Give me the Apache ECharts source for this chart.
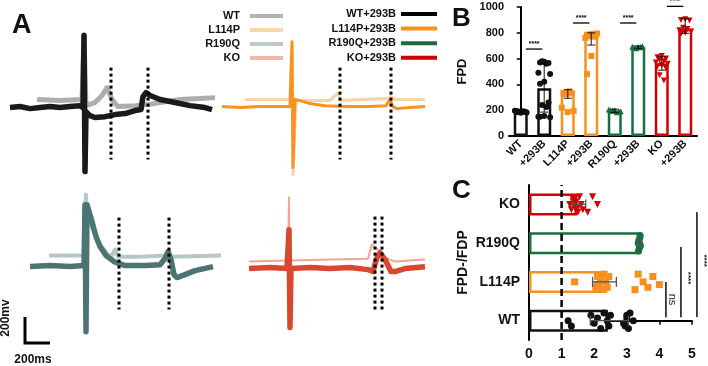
<!DOCTYPE html>
<html>
<head>
<meta charset="utf-8">
<script src="https://cdn.jsdelivr.net/npm/echarts@6/dist/echarts.min.js"></script>
<style>
  html, body { margin: 0; padding: 0; background: #fff; }
  #chart { width: 708px; height: 366px; }
</style>
</head>
<body>
<div id="chart"></div>
<script>
// ---- panel A: field potential traces, [time ms, mV] ----
const traceWT = [[216,62],[400,54],[576,62],[592,564],[608,15],[680,39],[736,93],[776,155],[816,62],[864,8],[1000,15],[1104,23],[1200,39],[1360,62],[1520,70],[1640,77]]
const traceWT293 = [[0,0],[80,8],[160,-8],[240,0],[320,8],[400,0],[480,8],[560,15],[584,0],[592,557],[600,-495],[608,-31],[640,-62],[680,-77],[760,-70],[840,-54],[920,-46],[1000,-23],[1048,-15],[1064,85],[1088,116],[1120,93],[1200,62],[1320,39],[1440,15],[1560,0],[1616,-15]]
const traceL114P = [[184,62],[384,62],[544,62],[560,487],[568,-518],[592,54],[704,54],[864,54],[904,93],[928,108],[952,54],[1104,62],[1328,70],[1352,85],[1384,62],[1624,62]]
const traceL114P293 = [[0,8],[144,0],[304,8],[464,8],[544,8],[560,510],[568,-464],[584,62],[624,54],[704,31],[824,15],[984,8],[1184,8],[1312,15],[1344,62],[1368,8],[1400,-8],[1504,0],[1624,8]]
const traceR190Q = [[152,85],[320,85],[432,85],[448,557],[456,402],[496,302],[560,170],[624,93],[656,85],[680,131],[704,77],[880,77],[1080,85],[1104,116],[1128,77],[1528,85]]
const traceR190Q293 = [[0,0],[160,8],[320,0],[432,8],[440,479],[448,-503],[456,479],[472,464],[496,348],[528,232],[560,155],[608,85],[672,39],[760,8],[920,8],[1040,15],[1080,62],[1104,116],[1128,54],[1152,-62],[1176,-85],[1240,-62],[1320,-31],[1464,0]]
const traceKO = [[0,54],[312,62],[320,549],[328,-472],[336,62],[648,70],[952,77],[984,186],[1032,147],[1088,85],[1168,54],[1408,70]]
const traceKO293 = [[0,0],[168,8],[304,0],[320,301],[328,-456],[336,0],[488,8],[648,0],[808,8],[952,-8],[992,-23],[1024,85],[1048,124],[1088,70],[1136,-23],[1168,-23],[1248,0],[1408,15]]

// dotted markers (time ms) and their extent (mV)
const dotsTL = [808, 1104]
const dotsTR = [944, 1352]
const dotsBL = [712, 1112]
const dotsBR = [1008, 1064]
const dotSpanTop = [309, -402]
const dotSpanBottomL = [379, -332]
const dotSpanBottomR = [402, -317]

// ---- panel B: FPD ----
const catB = ['WT', '+293B', 'L114P', '+293B', 'R190Q', '+293B', 'KO', '+293B']
const meanB = [190, 370, 335, 780, 195, 688, 562, 832]
const errLowB = [180, 185, 292, 705, 182, 678, 510, 795]
const errHighB = [200, 560, 360, 800, 208, 698, 615, 910]
const pointsB = [
  [180, 185, 188, 190, 192, 195, 183, 187, 191, 186],
  [575, 570, 565, 580, 560, 490, 480, 420, 405, 260, 240, 225, 150, 145, 155, 150],
  [340, 335, 330, 325, 345, 220, 195, 185],
  [790, 785, 780, 775, 770, 760, 795, 620, 480],
  [200, 195, 190, 198, 185, 205, 192],
  [690, 685, 695, 680, 688, 692],
  [620, 610, 600, 590, 580, 570, 560, 550, 540, 525, 470, 430],
  [905, 900, 895, 840, 830, 820, 810, 800, 790]
]
const sigPairsB = [[0, 1], [2, 3], [4, 5], [6, 7]]
const sigLevelB = [674, 876, 876, 1005]

// ---- panel C: FPD-/FDP ----
const catC = ['WT', 'L114P', 'R190Q', 'KO']
const meanC = [2.42, 2.40, 3.42, 1.47]
const errLowC = [1.88, 1.95, 3.33, 1.32]
const errHighC = [3.05, 2.68, 3.43, 1.74]
const pointsC = [
  [1.2, 1.3, 1.9, 2.0, 2.1, 2.2, 2.3, 2.4, 2.45, 2.5, 2.9, 3.0, 3.05, 3.1, 3.2, 2.95, 3.0],
  [1.4, 2.05, 2.1, 2.15, 2.2, 2.25, 2.3, 2.35, 2.4, 2.45, 2.1, 2.2, 3.25, 3.35, 3.5, 3.65, 3.8, 4.0],
  [3.35, 3.38, 3.4, 3.42, 3.37, 3.36, 3.41, 3.39],
  [1.25, 1.3, 1.35, 1.4, 1.45, 1.5, 1.55, 1.6, 1.65, 1.4, 1.5, 1.35, 1.8, 1.95, 2.1]
]
const sigXC = [4.2, 4.66, 5.15]
const sigSpanC = [[0.09, 1.0], [0.09, 1.9], [0.09, 2.8]]
const sigTextC = ['ns', '****', '****']

const FONT = 'Liberation Sans, Arial, sans-serif'
const BLACK = '#111'
const ORANGE = '#f7901e'
const GREEN = '#17703f'
const RED = '#d40000'
const colB = [BLACK, BLACK, ORANGE, ORANGE, GREEN, GREEN, RED, RED]
const symB = ['circle', 'circle', 'rect', 'rect', 'triangle', 'triangle', 'triangle', 'triangle']
const colC = [BLACK, ORANGE, GREEN, RED]
const symC = ['circle', 'rect', 'circle', 'triangle']
const jitterB = [0, -0.18, 0.18, -0.09, 0.09, -0.25, 0.25]
const jitterC = [0, -0.14, 0.14, -0.07, 0.07, -0.2, 0.2]

const chart = echarts.init(document.getElementById('chart'))

function traceGrid(left, top) {
  return { left: left, top: top, width: 212.5, height: 150, containLabel: false, outerBoundsMode: 'none' }
}
function hiddenX(g) { return { type: 'value', gridIndex: g, min: 0, max: 1700, show: false } }
function hiddenY(g) { return { type: 'value', gridIndex: g, min: -560, max: 600, show: false } }

function trace(name, data, g, color, width, z) {
  return {
    type: 'line', name: name, data: data, xAxisIndex: g, yAxisIndex: g,
    symbol: 'none', showSymbol: false, silent: true, z: z,
    lineStyle: { color: color, width: width, join: 'round' }, itemStyle: { color: color }
  }
}
function dots(g, times, span) {
  return times.map(t => ({
    type: 'line', xAxisIndex: g, yAxisIndex: g, symbol: 'none', silent: true, z: 8,
    data: [[t, span[0]], [t, span[1]]],
    lineStyle: { color: '#000', width: 3, type: [3, 3] }
  }))
}

const axisLineStyle = { color: '#000', width: 2 }
const bold = { fontFamily: FONT, fontWeight: 'bold', color: BLACK }

let series = [
  trace('WT', traceWT, 0, '#adadad', 5, 2),
  trace('WT+293B', traceWT293, 0, '#1a1a1a', 5.5, 3),
  trace('L114P', traceL114P, 1, '#fbd3a6', 3, 2),
  trace('L114P+293B', traceL114P293, 1, '#f7941d', 3, 3),
  trace('R190Q', traceR190Q, 2, '#b6c8c5', 4, 2),
  trace('R190Q+293B', traceR190Q293, 2, '#4b7472', 5.5, 3),
  trace('KO', traceKO, 3, '#f0a597', 2, 2),
  trace('KO+293B', traceKO293, 3, '#d8472e', 5.5, 3)
]
series = series.concat(dots(0, dotsTL, dotSpanTop), dots(1, dotsTR, dotSpanTop),
  dots(2, dotsBL, dotSpanBottomL), dots(3, dotsBR, dotSpanBottomR))

// panel B bars
series.push({
  type: 'bar', xAxisIndex: 4, yAxisIndex: 4, barWidth: 14, silent: true, z: 2,
  data: meanB.map((v, i) => ({ value: v, itemStyle: { color: '#fff', borderColor: colB[i], borderWidth: 2.5 } }))
})
pointsB.forEach((pts, i) => {
  series.push({
    type: 'scatter', xAxisIndex: 5, yAxisIndex: 4, silent: true, z: 4,
    symbol: symB[i], symbolSize: 6, symbolRotate: i >= 6 ? 180 : 0,
    itemStyle: { color: colB[i], opacity: 1 },
    data: pts.map((v, j) => [i + jitterB[j % jitterB.length], v])
  })
})
series.push({
  type: 'custom', xAxisIndex: 5, yAxisIndex: 4, silent: true, z: 6,
  data: meanB.map((v, i) => [i, errLowB[i], errHighB[i]]),
  renderItem: function (params, api) {
    const x = api.value(0)
    const lo = api.coord([x, api.value(1)])
    const hi = api.coord([x, api.value(2)])
    const st = { stroke: 'rgba(0,0,0,0.7)', lineWidth: 1.3 }
    return {
      type: 'group', children: [
        { type: 'line', shape: { x1: lo[0], y1: lo[1], x2: hi[0], y2: hi[1] }, style: st },
        { type: 'line', shape: { x1: lo[0] - 4, y1: lo[1], x2: lo[0] + 4, y2: lo[1] }, style: st },
        { type: 'line', shape: { x1: hi[0] - 4, y1: hi[1], x2: hi[0] + 4, y2: hi[1] }, style: st }
      ]
    }
  }
})
series.push({
  type: 'custom', xAxisIndex: 5, yAxisIndex: 4, silent: true, z: 6,
  data: sigPairsB.map((p, i) => [p[0], p[1], sigLevelB[i]]),
  renderItem: function (params, api) {
    const a = api.coord([api.value(0) + 0.22, api.value(2)])
    const b = api.coord([api.value(1) - 0.08, api.value(2)])
    return {
      type: 'group', children: [
        { type: 'line', shape: { x1: a[0], y1: a[1], x2: b[0], y2: b[1] }, style: { stroke: '#000', lineWidth: 1.3 } },
        { type: 'text', x: (a[0] + b[0]) / 2, y: a[1] - 1.5,
          style: { text: '****', fill: '#000', font: 'bold 7px ' + FONT, align: 'center', verticalAlign: 'bottom' } }
      ]
    }
  }
})

// panel C bars
series.push({
  type: 'bar', xAxisIndex: 6, yAxisIndex: 5, barWidth: 22, silent: true, z: 2,
  data: meanC.map((v, i) => ({ value: v, itemStyle: { color: '#fff', borderColor: colC[i], borderWidth: 2.5 } }))
})
pointsC.forEach((pts, i) => {
  series.push({
    type: 'scatter', xAxisIndex: 6, yAxisIndex: 6, silent: true, z: 4,
    symbol: symC[i], symbolSize: 7, symbolRotate: i === 3 ? 180 : 0,
    itemStyle: { color: colC[i], opacity: 1 },
    data: pts.map((v, j) => [v, i + jitterC[j % jitterC.length]])
  })
})
series.push({
  type: 'custom', xAxisIndex: 6, yAxisIndex: 6, silent: true, z: 6,
  data: meanC.map((v, i) => [errLowC[i], errHighC[i], i]),
  renderItem: function (params, api) {
    const y = api.value(2)
    const lo = api.coord([api.value(0), y])
    const hi = api.coord([api.value(1), y])
    const st = { stroke: '#555', lineWidth: 1.3 }
    return {
      type: 'group', children: [
        { type: 'line', shape: { x1: lo[0], y1: lo[1], x2: hi[0], y2: hi[1] }, style: st },
        { type: 'line', shape: { x1: lo[0], y1: lo[1] - 5, x2: lo[0], y2: lo[1] + 5 }, style: st },
        { type: 'line', shape: { x1: hi[0], y1: hi[1] - 5, x2: hi[0], y2: hi[1] + 5 }, style: st }
      ]
    }
  }
})
series.push({
  type: 'line', xAxisIndex: 6, yAxisIndex: 6, symbol: 'none', silent: true, z: 9,
  data: [[1, -0.5], [1, 3.5]],
  lineStyle: { color: '#000', width: 2.5, type: [7, 4] }
})
series.push({
  type: 'custom', xAxisIndex: 6, yAxisIndex: 6, silent: true, z: 6, clip: false,
  data: sigXC.map((x, i) => [x, sigSpanC[i][0], sigSpanC[i][1], i]),
  renderItem: function (params, api) {
    const a = api.coord([api.value(0), api.value(1)])
    const b = api.coord([api.value(0), api.value(2)])
    const label = sigTextC[api.value(3)]
    const isNs = label === 'ns'
    return {
      type: 'group', children: [
        { type: 'line', shape: { x1: a[0], y1: a[1], x2: b[0], y2: b[1] }, style: { stroke: '#333', lineWidth: 1.8 } },
        { type: 'text', x: a[0] + (isNs ? 6 : 7), y: (a[1] + b[1]) / 2 - (isNs ? 0 : 4), rotation: -Math.PI / 2,
          style: { text: label, fill: '#222', font: (isNs ? '11px ' : 'bold 8px ') + FONT, align: 'center', verticalAlign: 'middle' } }
      ]
    }
  }
})

function legendItems(names, colors) {
  return names.map((n, i) => ({ name: n, itemStyle: { color: colors[i], borderWidth: 0 }, lineStyle: { color: colors[i] } }))
}

const option = {
  animation: false,
  textStyle: { fontFamily: FONT },
  grid: [
    traceGrid(10, 30), traceGrid(222, 30), traceGrid(30, 189), traceGrid(249, 191),
    { left: 509, top: 7, width: 188, height: 129, containLabel: false, outerBoundsMode: 'none' },
    { left: 529, top: 185, width: 163, height: 155, containLabel: false, outerBoundsMode: 'none' }
  ],
  xAxis: [
    hiddenX(0), hiddenX(1), hiddenX(2), hiddenX(3),
    {
      type: 'category', gridIndex: 4, data: catB,
      axisLine: { lineStyle: axisLineStyle },
      axisTick: { alignWithLabel: true, length: 4, lineStyle: { color: '#000', width: 1.5 } },
      axisLabel: Object.assign({ rotate: 45, fontSize: 11, margin: 6, interval: 0 }, bold)
    },
    { type: 'value', gridIndex: 4, min: -0.5, max: 7.5, show: false },
    {
      type: 'value', gridIndex: 5, min: 0, max: 5, interval: 1,
      axisLine: { show: true, lineStyle: axisLineStyle },
      axisTick: { show: true, length: 4, lineStyle: { color: '#000', width: 1.5 } },
      splitLine: { show: false },
      axisLabel: Object.assign({ fontSize: 14, margin: 7 }, bold)
    }
  ],
  yAxis: [
    hiddenY(0), hiddenY(1), hiddenY(2), hiddenY(3),
    {
      type: 'value', gridIndex: 4, min: 0, max: 1000, interval: 200,
      axisLine: { show: true, lineStyle: axisLineStyle },
      axisTick: { show: true, length: 4, lineStyle: { color: '#000', width: 1.5 } },
      splitLine: { show: false },
      axisLabel: Object.assign({ fontSize: 11, margin: 5, formatter: v => String(v) }, bold),
      name: 'FPD', nameLocation: 'middle', nameGap: 40, nameRotate: 90,
      nameTextStyle: Object.assign({ fontSize: 13 }, bold)
    },
    {
      type: 'category', gridIndex: 5, data: catC,
      axisLine: { lineStyle: axisLineStyle },
      axisTick: { alignWithLabel: true, length: 4, lineStyle: { color: '#000', width: 1.5 } },
      axisLabel: Object.assign({ fontSize: 14, margin: 9 }, bold),
      name: 'FPD-/FDP', nameLocation: 'middle', nameGap: 59, nameRotate: 90,
      nameTextStyle: Object.assign({ fontSize: 14 }, bold)
    },
    { type: 'value', gridIndex: 5, min: -0.5, max: 3.5, show: false }
  ],
  legend: [
    {
      orient: 'vertical', left: 165, top: 5, align: 'right', itemGap: 2, selectedMode: false,
      icon: 'rect', itemWidth: 33, itemHeight: 4,
      textStyle: Object.assign({ fontSize: 11, lineHeight: 12, width: 70, align: 'right', padding: [0, 5, 0, 0] }, bold),
      data: legendItems(['WT', 'L114P', 'R190Q', 'KO'], ['#b4b4b4', '#fcd6ab', '#bccaca', '#f2b6ad'])
    },
    {
      orient: 'vertical', left: 301, top: 3, align: 'right', itemGap: 2.6, selectedMode: false,
      icon: 'rect', itemWidth: 36, itemHeight: 4,
      textStyle: Object.assign({ fontSize: 11, lineHeight: 12, width: 90, align: 'right' }, bold),
      data: legendItems(['WT+293B', 'L114P+293B', 'R190Q+293B', 'KO+293B'], ['#000', '#f7901e', '#1e6b3c', '#cc0000'])
    }
  ],
  graphic: [
    { type: 'text', left: 12, top: 12, style: { text: 'A', font: 'bold 27px ' + FONT, fill: BLACK } },
    { type: 'text', left: 452, top: 6, style: { text: 'B', font: 'bold 26px ' + FONT, fill: BLACK } },
    { type: 'text', left: 452, top: 178, style: { text: 'C', font: 'bold 26px ' + FONT, fill: BLACK } },
    { type: 'polyline', shape: { points: [[25, 317], [25, 343], [50, 343]] }, style: { stroke: '#000', lineWidth: 3, fill: null } },
    { type: 'text', x: 6, y: 318, rotation: Math.PI / 2,
      style: { text: '200mv', font: 'bold 12px ' + FONT, fill: BLACK, align: 'center', verticalAlign: 'middle' } },
    { type: 'text', x: 33, y: 360,
      style: { text: '200ms', font: 'bold 12px ' + FONT, fill: BLACK, align: 'center', verticalAlign: 'middle' } }
  ],
  series: series
}

chart.setOption(option)
</script>
</body>
</html>
